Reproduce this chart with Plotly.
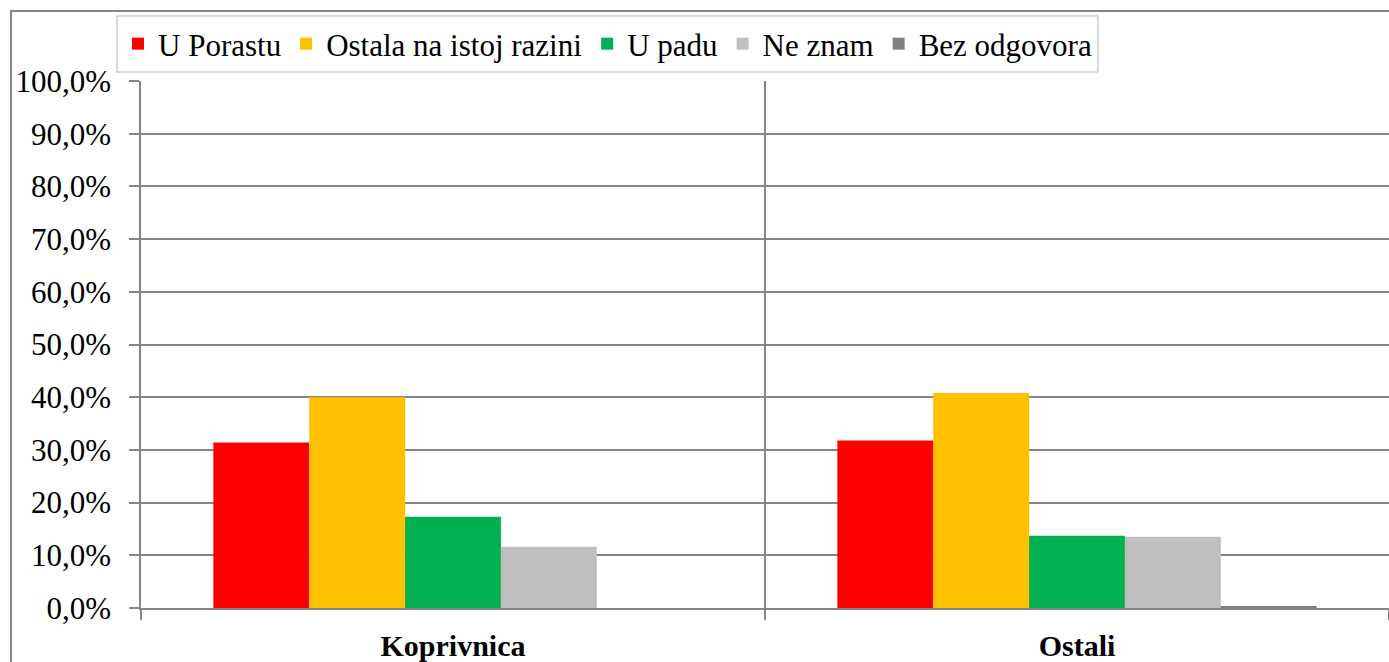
import plotly.graph_objects as go

categories = ["Koprivnica", "Ostali"]
series_names = ["U Porastu", "Ostala na istoj razini", "U padu", "Ne znam", "Bez odgovora"]
u_porastu = [31.4, 31.8]
ostala = [40.0, 40.8]
u_padu = [17.3, 13.7]
ne_znam = [11.6, 13.5]
bez_odgovora = [0.0, 0.3]
colors = ["#FF0000", "#FFC000", "#00B050", "#BFBFBF", "#808080"]

values = [u_porastu, ostala, u_padu, ne_znam, bez_odgovora]
font_family = "Liberation Serif"

fig = go.Figure()
for name, vals, col in zip(series_names, values, colors):
    fig.add_trace(go.Bar(x=categories, y=vals, name=name, marker=dict(color=col, line=dict(width=0))))

W, H = 1389, 662
ml, mr, mt, mb = 141, 0, 81, 54
pw = W - ml - mr
ph = H - mt - mb

fig.update_layout(
    width=W, height=H,
    margin=dict(l=ml, r=mr, t=mt, b=mb),
    barmode="group", bargap=0.232, bargroupgap=0,
    paper_bgcolor="white", plot_bgcolor="white",
    separators=", ",
    font=dict(family=font_family, size=30, color="black"),
    legend=dict(
        orientation="h", x=(116 - ml) / pw, y=1 + (mt - 15) / ph,
        xanchor="left", yanchor="top",
        bordercolor="#D9D9D9", borderwidth=2,
        font=dict(family=font_family, size=31, color="black"),
        itemwidth=30, traceorder="normal",
    ),
    xaxis=dict(
        type="category", tickson="boundaries",
        showgrid=True, gridcolor="#868686", gridwidth=1.5,
        showline=True, linecolor="#868686", linewidth=2,
        ticks="outside", ticklen=10, tickcolor="#868686", tickwidth=1.5,
        ticklabelstandoff=10,
        tickfont=dict(family=font_family, size=30, color="black", weight="bold"),
        range=[-0.5, 1.5],
    ),
    yaxis=dict(
        range=[0, 100], dtick=10, tick0=0,
        tickformat=".1f", ticksuffix="%",
        showgrid=True, gridcolor="#868686", gridwidth=1.5,
        showline=True, linecolor="#868686", linewidth=1.5,
        ticks="outside", ticklen=10, tickcolor="#868686", tickwidth=1.5,
        ticklabelstandoff=12,
        tickfont=dict(family=font_family, size=31, color="black"),
        zeroline=False,
    ),
    shapes=[dict(
        type="rect", xref="paper", yref="paper",
        x0=(11 - ml) / pw, x1=(W + 5 - ml) / pw,
        y0=1 + (mt - 11) / ph, y1=-(H + 5 - mt - ph) / ph,
        line=dict(color="#868686", width=2), fillcolor="rgba(0,0,0,0)", layer="below",
    )],
)

fig.write_html(
    "out.html",
    config={"displayModeBar": False},
    post_script="document.body.style.margin='0';document.body.style.overflow='hidden';",
)
